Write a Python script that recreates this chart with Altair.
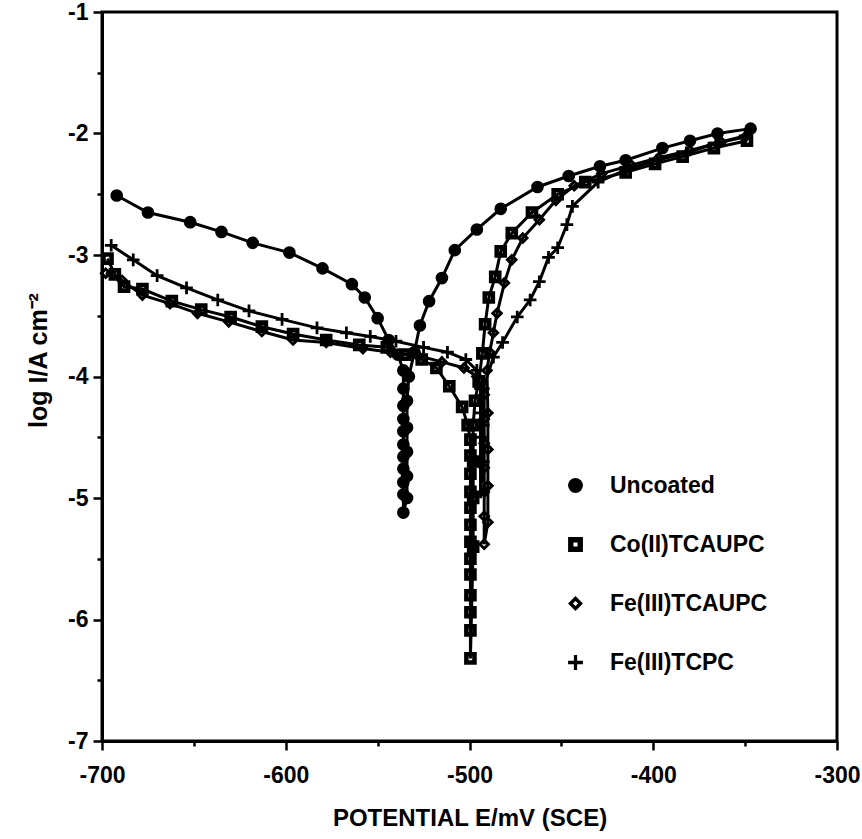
import altair as alt
import pandas as pd

# ---------------- data ----------------
series_names = ["Uncoated", "Co(II)TCAUPC", "Fe(III)TCAUPC", "Fe(III)TCPC"]

uncoated_E = [-692, -675, -652, -635, -618, -598, -580, -564, -557, -550, -544, -539,
              -536, -536, -536, -536, -536, -536, -536, -536, -536, -536, -536,
              -534, -534, -534, -534, -534, -533, -530, -527, -522, -515, -508, -496,
              -483, -463, -446, -429, -415, -395, -380, -365, -347]
uncoated_logI = [-2.51, -2.65, -2.73, -2.81, -2.90, -2.98, -3.11, -3.24, -3.35, -3.52, -3.70, -3.82,
                 -3.95, -4.10, -4.24, -4.35, -4.45, -4.56, -4.66, -4.76, -4.87, -4.97, -5.12,
                 -5.00, -4.82, -4.62, -4.42, -4.20, -4.00, -3.80, -3.58, -3.38, -3.19, -2.96, -2.79,
                 -2.62, -2.44, -2.35, -2.27, -2.22, -2.12, -2.06, -2.00, -1.96]

co_E = [-697, -693, -688, -678, -662, -646, -630, -613, -596, -578, -560, -545, -535, -526,
        -518, -511, -504, -501, -499.5, -499.5, -499.5, -499.5, -499.5, -499.5, -499.5,
        -499.5, -499.5, -499.5, -499.5, -499.5, -499.5,
        -498, -498, -498, -498, -497, -495, -493, -491.5, -489.5, -486, -483, -477, -466,
        -452, -437, -415, -399, -384, -367, -349]
co_logI = [-3.03, -3.16, -3.26, -3.28, -3.38, -3.45, -3.51, -3.59, -3.65, -3.70, -3.74, -3.76, -3.82, -3.86,
           -3.93, -4.08, -4.25, -4.40, -4.52, -4.65, -4.80, -4.95, -5.08, -5.22, -5.36,
           -5.50, -5.63, -5.80, -5.94, -6.09, -6.32,
           -5.40, -5.00, -4.70, -4.40, -4.20, -4.04, -3.81, -3.57, -3.35, -3.18, -2.97, -2.82, -2.65,
           -2.50, -2.40, -2.32, -2.25, -2.19, -2.12, -2.06]

fe_E = [-698, -689, -678, -663, -648, -631, -613, -596, -578, -558, -543, -528, -515, -503,
        -496, -492, -492, -492, -492, -492, -492, -492,
        -490, -490, -490, -490, -490.5, -489, -487, -485, -481, -477, -471, -462,
        -453, -443, -428, -412, -397, -380, -363, -350]
fe_logI = [-3.15, -3.21, -3.33, -3.40, -3.48, -3.55, -3.63, -3.70, -3.72, -3.77, -3.80, -3.83, -3.88, -3.93,
           -4.00, -4.15, -4.35, -4.55, -4.75, -4.95, -5.15, -5.38,
           -5.20, -4.90, -4.60, -4.30, -3.95, -3.80, -3.64, -3.48, -3.23, -3.04, -2.86, -2.71,
           -2.55, -2.43, -2.33, -2.26, -2.20, -2.14, -2.07, -2.03]

tcpc_E = [-695, -683, -670, -654, -637, -620, -602, -583, -567, -554, -540, -525, -512, -502,
          -496, -494, -494, -494, -494, -494,
          -492.5, -492.5, -492.5, -487, -482, -474, -467, -462, -457, -452, -447, -444,
          -430, -415, -398, -382, -366, -350]
tcpc_logI = [-2.92, -3.04, -3.17, -3.27, -3.37, -3.46, -3.53, -3.60, -3.64, -3.67, -3.71, -3.76, -3.80, -3.86,
             -3.95, -4.10, -4.30, -4.50, -4.70, -4.95,
             -4.70, -4.40, -4.10, -3.84, -3.72, -3.51, -3.37, -3.22, -3.02, -2.94, -2.75, -2.60,
             -2.40, -2.30, -2.22, -2.16, -2.08, -2.02]

x_major = [-700, -600, -500, -400, -300]
x_minor = [-650, -550, -450, -350]
y_major = [-7, -6, -5, -4, -3, -2, -1]
y_minor = [-6.5, -5.5, -4.5, -3.5, -2.5, -1.5]

# ---------------- build table ----------------
rows = []
for name, xs, ys in [("Uncoated", uncoated_E, uncoated_logI),
                     ("Co(II)TCAUPC", co_E, co_logI),
                     ("Fe(III)TCAUPC", fe_E, fe_logI),
                     ("Fe(III)TCPC", tcpc_E, tcpc_logI)]:
    for i, (e, v) in enumerate(zip(xs, ys)):
        rows.append({"series": name, "E": e, "logI": v, "i": i})
df = pd.DataFrame(rows)

FONT = "Liberation Sans"

square_hole = "M-1,-1L1,-1L1,1L-1,1Z M-0.28,-0.28L-0.28,0.28L0.28,0.28L0.28,-0.28Z"
diamond_hole = "M0,-1L1,0L0,1L-1,0Z M0,-0.35L-0.35,0L0,0.35L0.35,0Z"
plus = ("M-0.22,-1L0.22,-1L0.22,-0.22L1,-0.22L1,0.22L0.22,0.22L0.22,1L-0.22,1L-0.22,0.22"
        "L-1,0.22L-1,-0.22L-0.22,-0.22Z")

xscale = alt.Scale(domain=[-700, -300], nice=False, zero=False)
yscale = alt.Scale(domain=[-7, -1], nice=False, zero=False)

x_major_axis = alt.Axis(values=x_major, grid=False, orient="bottom", labelFlush=False,
                        labelExpr="'' + datum.value",
                        tickSize=9, tickWidth=2.5, tickColor="black",
                        domainColor="black", domainWidth=3,
                        labelFont=FONT, labelFontSize=23, labelFontWeight="bold",
                        labelColor="black", labelPadding=14,
                        title="POTENTIAL E/mV (SCE)", titleFont=FONT, titleFontSize=24,
                        titleFontWeight="bold", titleColor="black", titlePadding=19)
y_major_axis = alt.Axis(values=y_major, grid=False, orient="left", labelFlush=False,
                        labelExpr="'' + datum.value",
                        tickSize=9, tickWidth=2.5, tickColor="black",
                        domainColor="black", domainWidth=3,
                        labelFont=FONT, labelFontSize=23, labelFontWeight="bold",
                        labelColor="black", labelPadding=5,
                        title="log I/A cm⁻²", titleFont=FONT, titleFontSize=25,
                        titleFontWeight="bold", titleColor="black",
                        titleX=-64, titleY=348, titleBaseline="middle")
x_minor_axis = alt.Axis(values=x_minor, grid=False, orient="bottom", labels=False, title=None,
                        domain=False, tickSize=5, tickWidth=2.5, tickColor="black")
y_minor_axis = alt.Axis(values=y_minor, grid=False, orient="left", labels=False, title=None,
                        domain=False, tickSize=5, tickWidth=2.5, tickColor="black")

lines = alt.Chart(df).mark_line(color="black", strokeWidth=3).encode(
    x=alt.X("E:Q", scale=xscale, axis=x_major_axis),
    y=alt.Y("logI:Q", scale=yscale, axis=y_major_axis),
    detail="series:N", order="i:Q")

points = alt.Chart(df).mark_point(filled=True, color="black", opacity=1, size=160).encode(
    x=alt.X("E:Q", scale=xscale, axis=x_minor_axis),
    y=alt.Y("logI:Q", scale=yscale, axis=y_minor_axis),
    shape=alt.Shape("series:N",
                    scale=alt.Scale(domain=series_names,
                                    range=["circle", square_hole, diamond_hole, plus]),
                    legend=alt.Legend(title=None, orient="none", legendX=462, legendY=462,
                                      padding=0, symbolSize=220, symbolFillColor="black",
                                      symbolStrokeWidth=0, symbolOpacity=1,
                                      labelFont=FONT, labelFontSize=23, labelFontWeight="bold",
                                      labelColor="black", labelOffset=23, rowPadding=35,
                                      labelLimit=400)),
)

chart = alt.layer(lines, points).resolve_axis(x="independent", y="independent").properties(
    width=735, height=729,
    autosize=alt.AutoSizeParams(type="none"),
    padding={"left": 102, "top": 12, "right": 25, "bottom": 98},
    background="white",
).configure_view(stroke="black", strokeWidth=3)

chart.save("out.html", embed_options={"renderer": "svg", "actions": False})
